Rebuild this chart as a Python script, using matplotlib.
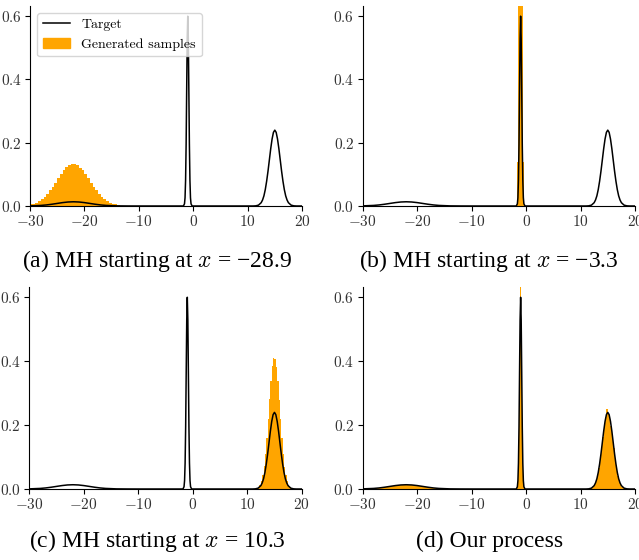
import numpy as np
import matplotlib
matplotlib.use('Agg')
import matplotlib.pyplot as plt
from matplotlib.lines import Line2D
from matplotlib.patches import Patch

plt.rcParams['font.family'] = ['cmr10', 'DejaVu Serif']
plt.rcParams['axes.formatter.use_mathtext'] = True
plt.rcParams['mathtext.fontset'] = 'cm'

# target density (mixture)
target_x = [-30, -28, -27, -26, -25, -24, -23, -22, -21, -20, -19, -18, -17, -16, -14, -12, -10,
            -2, -1.8, -1.6, -1.5, -1.4, -1.3, -1.2, -1.1, -1.0, -0.9, -0.8, -0.7, -0.6, -0.5, -0.4, -0.2, 0,
            11, 11.5, 12, 12.5, 12.75, 13, 13.25, 13.5, 13.75, 14, 14.25, 14.5, 14.75, 15,
            15.25, 15.5, 15.75, 16, 16.25, 16.5, 16.75, 17, 17.25, 17.5, 18, 18.5, 19, 20]
target_y = [0.0004, 0.0018, 0.0033, 0.0055, 0.0081, 0.0107, 0.0126, 0.0133, 0.0126, 0.0107, 0.0081, 0.0055, 0.0033, 0.0018, 0.0004, 0.0001, 0,
            0, 0, 0.007, 0.026, 0.081, 0.194, 0.363, 0.528, 0.598, 0.528, 0.363, 0.194, 0.081, 0.026, 0.007, 0, 0,
            0, 0.0005, 0.0027, 0.0105, 0.019, 0.032, 0.0517, 0.078, 0.1095, 0.145, 0.1805, 0.211, 0.232, 0.239,
            0.232, 0.211, 0.1805, 0.145, 0.1095, 0.078, 0.0517, 0.032, 0.019, 0.0105, 0.0027, 0.0005, 0, 0]

# (a) MH from -28.9: bins of 0.5 starting at -30
hist_a_start, hist_a_width = -30, 0.5
hist_a = [0.005, 0.007, 0.011, 0.015, 0.021, 0.029, 0.038, 0.049, 0.061, 0.074, 0.087, 0.100,
          0.112, 0.122, 0.129, 0.133, 0.132, 0.128, 0.121, 0.112, 0.100, 0.087, 0.074, 0.061,
          0.049, 0.038, 0.028, 0.021, 0.015, 0.010, 0.007, 0.005, 0.003, 0.001]

# (b) MH from -3.3: stuck in the narrow mode
hist_b_start, hist_b_width = -1.7, 0.1
hist_b = [0.01, 0.14, 0.8, 1.2, 1.6, 1.9, 2.1, 2.1, 1.9, 1.6, 1.2, 0.8, 0.14, 0.01]

# (c) MH from 10.3
hist_c_start, hist_c_width = 10.5, 0.25
hist_c = [0.0001, 0.0002, 0.0004, 0.0007, 0.0015, 0.0032, 0.0067, 0.013, 0.024, 0.043, 0.071, 0.110,
          0.160, 0.218, 0.280, 0.338, 0.383, 0.408, 0.406, 0.381, 0.337, 0.279, 0.217, 0.160,
          0.109, 0.070, 0.043, 0.025, 0.013, 0.0066, 0.003, 0.0014]

# (d) our process: three groups of bins
hist_d_left_start, hist_d_left_width = -30, 1.0
hist_d_left = [0.0006, 0.0013, 0.0025, 0.0043, 0.0067, 0.0094, 0.0117, 0.0131, 0.0132, 0.0116,
               0.0095, 0.0066, 0.0044, 0.0025, 0.0013, 0.0006]
hist_d_mid_start, hist_d_mid_width = -1.6, 0.1
hist_d_mid = [0.014, 0.048, 0.129, 0.274, 0.451, 0.640, 0.560, 0.451, 0.274, 0.129, 0.048, 0.014]
hist_d_right_start, hist_d_right_width = 11.5, 0.25
hist_d_right = [0.0008, 0.0018, 0.0038, 0.0076, 0.0142, 0.025, 0.041, 0.064, 0.093, 0.127, 0.163, 0.197,
                0.223, 0.248, 0.236, 0.222, 0.196, 0.163, 0.127, 0.093, 0.064, 0.041, 0.025, 0.0142,
                0.0076, 0.0038, 0.0018, 0.0008]

captions = ["(a) MH starting at $x$ = \u221228.9", "(b) MH starting at $x$ = \u22123.3",
            "(c) MH starting at $x$ = 10.3", "(d) Our process"]

ORANGE = '#ffa500'


def bars(ax, start, width, heights):
    edges = start + width * np.arange(len(heights) + 1)
    ax.stairs(heights, edges, fill=True, color=ORANGE, linewidth=0, zorder=1)


fig = plt.figure(figsize=(6.39, 5.60), dpi=100)
W, H = 639, 560
# axes boxes in pixels: left, top, right, bottom
boxes = [(30, 6, 302, 206), (362.7, 6, 635, 206), (29.3, 287, 301.7, 489), (362.7, 287, 635, 489)]
axes = []
for (l, t, r, b) in boxes:
    axes.append(fig.add_axes([l / W, (H - b) / H, (r - l) / W, (b - t) / H]))

bars(axes[0], hist_a_start, hist_a_width, hist_a)
bars(axes[1], hist_b_start, hist_b_width, hist_b)
bars(axes[2], hist_c_start, hist_c_width, hist_c)
bars(axes[3], hist_d_left_start, hist_d_left_width, hist_d_left)
bars(axes[3], hist_d_mid_start, hist_d_mid_width, hist_d_mid)
bars(axes[3], hist_d_right_start, hist_d_right_width, hist_d_right)

for ax in axes:
    ax.plot(target_x, target_y, color='black', lw=1.1, zorder=2)
    ax.set_xlim(-30, 20)
    ax.set_ylim(0, 0.63)
    ax.set_xticks([-30, -20, -10, 0, 10, 20])
    ax.set_yticks([0.0, 0.2, 0.4, 0.6])
    ax.spines['top'].set_visible(False)
    ax.spines['right'].set_visible(False)
    ax.tick_params(labelsize=11, labelcolor='#333333', pad=2.5)

handles = [Line2D([], [], color='black', lw=1.1), Patch(color=ORANGE)]
axes[0].legend(handles, ['Target', 'Generated samples'], loc='upper left', fontsize=10)

cap_pos = [(157, 266.5), (489, 266.5), (157, 547), (489.5, 547)]
for (cx, cy), txt in zip(cap_pos, captions):
    fig.text(cx / W, 1 - cy / H, txt, ha='center', va='baseline',
             fontsize=17, family='Liberation Serif')

fig.savefig('out.png', dpi=100)
